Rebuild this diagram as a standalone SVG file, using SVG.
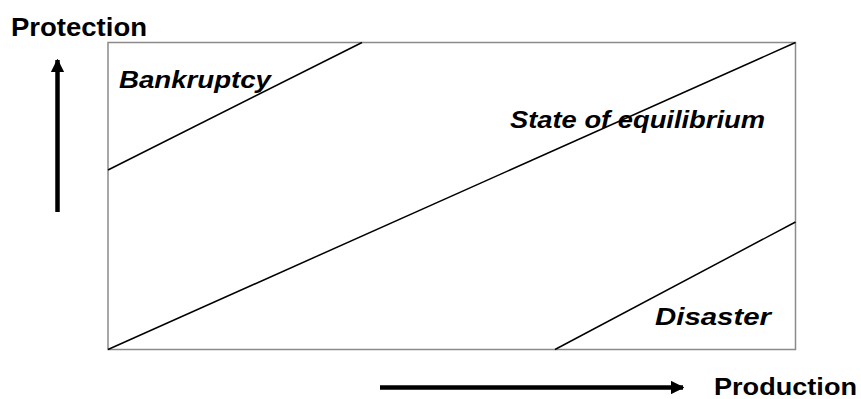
<svg xmlns="http://www.w3.org/2000/svg" width="861" height="399" viewBox="0 0 861 399">
<style>
.lbl{font-family:"Liberation Sans",Arial,sans-serif;font-weight:bold;fill:#000;}
.it{font-style:italic;}
.div{stroke:#000;stroke-width:1.5;fill:none;}
.axis{stroke:#000;stroke-width:4.5;fill:none;}
</style>
<defs>
<marker id="ah" viewBox="0 0 10 10" refX="9" refY="5" markerWidth="3" markerHeight="3" orient="auto" markerUnits="strokeWidth">
<path d="M0,0 L10,5 L0,10 z" fill="#000"/>
</marker>
</defs>
<rect width="861" height="399" fill="#fff"/>
<g id="frame">
<rect x="108" y="42.5" width="687.5" height="307" fill="none" stroke="#8a8a8a" stroke-width="1.5"/>
</g>
<g id="connectors">
<line class="div" x1="108" y1="170" x2="362" y2="42.5"/>
<line class="div" x1="108" y1="349.5" x2="795.5" y2="42.5"/>
<line class="div" x1="555" y1="349.5" x2="795.5" y2="222"/>
<line class="axis" x1="57.5" y1="212" x2="57.5" y2="60" marker-end="url(#ah)"/>
<line class="axis" x1="380" y1="387.5" x2="683" y2="387.5" marker-end="url(#ah)"/>
</g>
<g id="protection"><text class="lbl" x="11" y="36" font-size="25" textLength="136" lengthAdjust="spacingAndGlyphs">Protection</text></g>
<g id="production"><text class="lbl" x="714" y="394.5" font-size="23" textLength="143" lengthAdjust="spacingAndGlyphs">Production</text></g>
<g id="bankruptcy"><text class="lbl it" x="119" y="88" font-size="24" textLength="152" lengthAdjust="spacingAndGlyphs">Bankruptcy</text></g>
<g id="equilibrium"><text class="lbl it" x="510" y="128" font-size="24" textLength="255" lengthAdjust="spacingAndGlyphs">State of equilibrium</text></g>
<g id="disaster"><text class="lbl it" x="655" y="325" font-size="24" textLength="116" lengthAdjust="spacingAndGlyphs">Disaster</text></g>
</svg>
